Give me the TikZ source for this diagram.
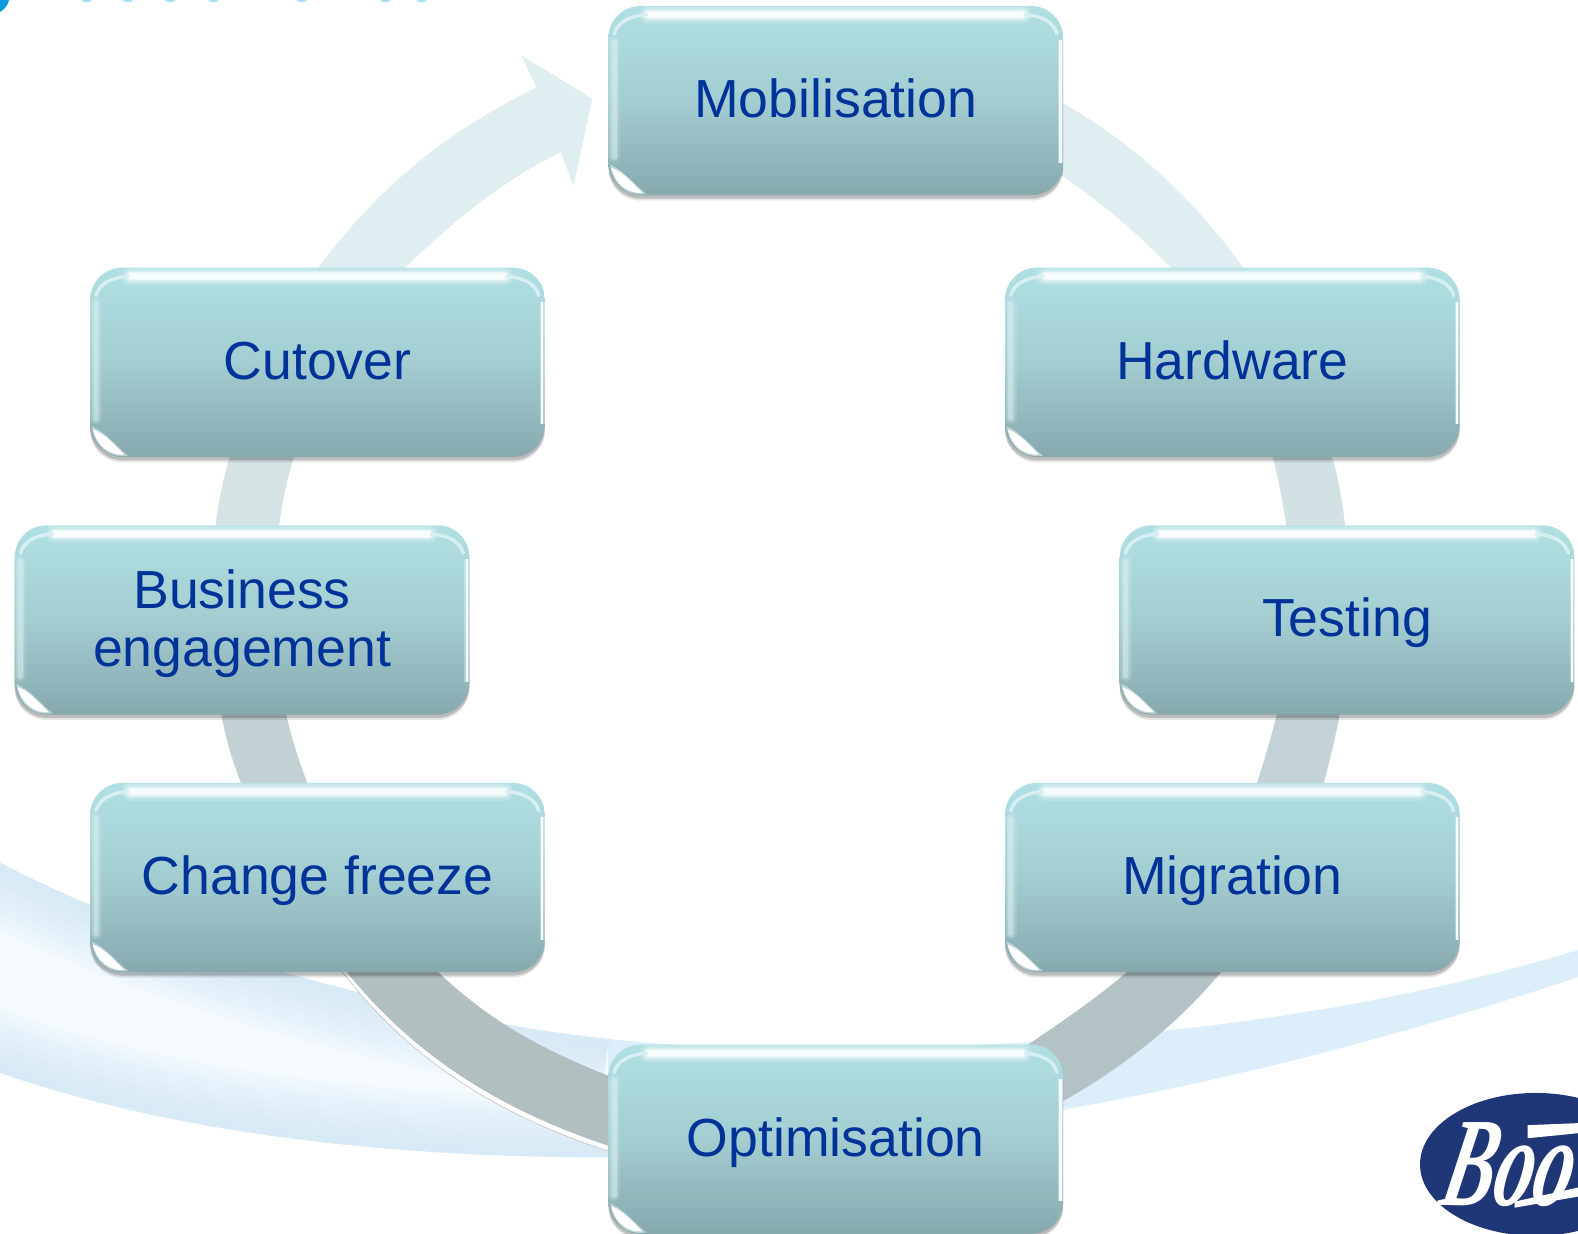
\documentclass[tikz,border=0pt]{standalone}
\usepackage{fontspec}
\setmainfont{Liberation Sans}
\newfontfamily\logofont{Liberation Serif}
\usetikzlibrary{calc,shadows,backgrounds}
\pgfdeclarelayer{swooshlayer}
\pgfdeclarelayer{arclayer}
\pgfsetlayers{swooshlayer,arclayer,main}
\definecolor{topcol}{HTML}{B0E0E3}
\definecolor{midcol}{HTML}{A3CDD1}
\definecolor{botcol}{HTML}{86A9AE}
\definecolor{txtcol}{HTML}{003399}
\definecolor{swblue}{HTML}{DBEEF9}
\definecolor{swedge}{HTML}{C6E3F5}
\definecolor{logoblue}{HTML}{1F3677}
\definecolor{corner}{HTML}{0A9BD8}
\definecolor{titletail}{HTML}{A8DDF2}
\tikzset{
  x=0.7548pt,y=-0.7548pt,
  cyclebox/.style={
    rounded corners=24pt,minimum width=341pt,minimum height=142pt,inner sep=0pt,
    top color=topcol,bottom color=botcol,middle color=midcol,
    text=txtcol,font=\fontsize{40.2}{43.8}\selectfont,align=center,
    drop shadow={shadow xshift=0pt,shadow yshift=-4pt,opacity=.10,fill=black},
    drop shadow={shadow xshift=0pt,shadow yshift=-2.5pt,opacity=.18,fill=black},
  },
  singleline/.style={text height=25.5pt,text depth=0pt},
  ringseg/.style={draw=none},
  edgeseg/.style={fill=white,draw=#1,line width=.5pt},
}
\begin{document}
\begin{tikzpicture}
\useasboundingbox (0,0) rectangle (1568,1226);
\clip (0,0) rectangle (1568,1226);
% boxes
\node[cyclebox,singleline] (mob) at (830.5,100) {Mobilisation};
\node[cyclebox,singleline] (har) at (1224.5,360) {Hardware};
\node[cyclebox,singleline] (tes) at (1338.5,616) {Testing};
\node[cyclebox,singleline] (mig) at (1224.5,872) {Migration};
\node[cyclebox,singleline] (opt) at (830.5,1132) {Optimisation};
\node[cyclebox,singleline] (chg) at (315.5,872) {Change freeze};
\node[cyclebox] (bus) at (240.5,616) {\rule{0pt}{35pt}Business\\engagement};
\node[cyclebox,singleline] (cut) at (315.5,360) {Cutover};
% glossy highlights of the boxes
\foreach \n in {mob,har,tes,mig,opt,chg,bus,cut}{
  \begin{scope}[shift={(\n.north west)}]
    \foreach \w/\o in {14/.12,11/.2,8/.35,6/.5,4/.7}{
      \draw[white,opacity=\o,line width=\w,line cap=round] (40,9) -- (412,9);
    }
    \draw[topcol!50!white,line width=2.6pt,line cap=round] (6,28) .. controls (9,17) and (20,10) .. (38,9);
    \draw[topcol!50!white,line width=2.6pt,line cap=round] (446,28) .. controls (443,17) and (432,10) .. (414,9);
    \foreach \w/\o in {9/.15,6/.25,3.5/.4}{
      \draw[topcol!40!white,opacity=\o,line width=\w,line cap=round] (6,36) -- (6,150);
    }
    \foreach \w/\o in {3.5/.3,1.8/.9}{
      \draw[white,opacity=\o,line width=\w] (449.5,34) -- (449.5,156);
    }
    \fill[white,opacity=.45] (2,158) .. controls (5,178) and (18,190) .. (38,187)
      .. controls (28,180) and (16,164) .. (2,158) -- cycle;
    \fill[white] (3,161) .. controls (7,178) and (20,187) .. (34,186)
      .. controls (26,178) and (15,165) .. (3,161) -- cycle;
  \end{scope}
}
% ring of block arrows
\begin{pgfonlayer}{arclayer}
\fill[ringseg,fill={rgb,255:red,223;green,238;blue,240}]
  ($(mob.east)+(-10,-3)$) .. controls (1125,140) and (1190,200) .. ($(har.north)+(17,9)$)
  -- ($(har.north)+(-52,9)$) .. controls (1130,232) and (1095,200) .. ($(mob.east)+(-16,65)$) -- cycle;
\fill[ringseg,fill={rgb,255:red,210;green,225;blue,228}]
  ($(har.south)+(96,-8)$) .. controls (1330,470) and (1334,500) .. ($(tes.north)+(-1,8)$)
  -- ($(tes.north)+(-59,8)$) .. controls (1275,505) and (1272,480) .. ($(har.south)+(38,-8)$) -- cycle;
\fill[ringseg,fill={rgb,255:red,194;green,210;blue,214}]
  ($(tes.south)+(-6,-8)$) .. controls (1327,735) and (1320,760) .. ($(mig.north)+(89,8)$)
  -- ($(mig.north)+(22,8)$) .. controls (1255,760) and (1264,730) .. ($(tes.south)+(-68,-8)$) -- cycle;
\fill[ringseg,fill={rgb,255:red,179;green,195;blue,197}]
  ($(mig.south)+(-5,-8)$) .. controls (1170,1020) and (1110,1065) .. ($(opt.east)+(-11,-32)$)
  -- ($(opt.east)+(-41,-90)$) .. controls (1060,1012) and (1095,988) .. ($(mig.south)+(-96,-8)$) -- cycle;
\filldraw[edgeseg=gray!45]
  ($(chg.south)+(19,-8)$) .. controls (406,1054) and (496,1109) .. ($(opt.west)+(4,13)$)
  -- ($(opt.west)+(8,-30)$) -- ($(chg.south)+(60,-8)$) -- cycle;
\fill[ringseg,fill={rgb,255:red,178;green,191;blue,192}]
  ($(chg.south)+(23,-8)$) .. controls (410,1050) and (500,1105) .. ($(opt.west)+(8,9)$)
  -- ($(opt.west)+(8,-60)$) .. controls (530,1040) and (480,1010) .. ($(chg.south)+(112,-8)$) -- cycle;
\fill[ringseg,fill={rgb,255:red,194;green,209;blue,212}]
  ($(chg.north)+(-73,8)$) .. controls (232,760) and (224,735) .. ($(bus.south)+(-22,-8)$)
  -- ($(bus.south)+(42,-8)$) .. controls (290,735) and (298,760) .. ($(chg.north)+(-7,8)$) -- cycle;
\fill[ringseg,fill={rgb,255:red,213;green,227;blue,229}]
  ($(bus.north)+(-27,8)$) .. controls (216,500) and (222,475) .. ($(cut.south)+(-85,-8)$)
  -- ($(cut.south)+(-21,-8)$) .. controls (285,475) and (280,500) .. ($(bus.north)+(36,8)$) -- cycle;
\fill[ringseg,fill={rgb,255:red,223;green,238;blue,240}]
  ($(cut.north)+(-5,8)$) .. controls (375,185) and (445,130) .. (533,87)
  -- (518,55) -- ($(mob.west)+(-16,-2)$) -- (570,185) -- (557,151)
  .. controls (490,185) and (445,225) .. ($(cut.north)+(79,8)$) -- cycle;
\end{pgfonlayer}
% background swoosh
\begin{pgfonlayer}{swooshlayer}
\begin{scope}
  \clip (0,857) .. controls (100,910) and (230,955) .. (368,989)
    .. controls (470,1013) and (600,1045) .. (830,1042)
    .. controls (1100,1040) and (1350,1010) .. (1568,944)
    -- (1568,971) .. controls (1300,1060) and (1060,1110) .. (830,1136)
    .. controls (760,1144) and (680,1150) .. (603,1150)
    .. controls (380,1150) and (170,1125) .. (0,1066) -- cycle;
  \fill[swblue!30!white] (0,840) rectangle (604,1160);
  \fill[swblue] (604,900) rectangle (1568,1160);
  \foreach \w in {90,80,...,10}{
    \draw[swedge,line width=\w,opacity=.09]
      (-120,1020) -- (0,1066) .. controls (170,1125) and (380,1150) .. (604,1150);
    \draw[swedge,line width=\w,opacity=.09]
      (-120,795) -- (0,857) .. controls (100,910) and (230,955) .. (368,989)
      .. controls (470,1013) and (540,1030) .. (604,1038);
  }
\end{scope}
\end{pgfonlayer}
% logo
\fill[logoblue] (1526,1157) ellipse [x radius=115,y radius=71];
\fill[white] (1505,1200) -- (1505,1194) -- (1568,1180) -- (1568,1189) -- cycle;
\fill[white] (1518,1118) -- (1568,1116) -- (1568,1126) -- (1518,1131) -- cycle;
\node[text=white,font=\logofont\bfseries\itshape\fontsize{95}{95}\selectfont,anchor=base west,inner sep=0pt,xscale=.62,xslant=.35,transform shape] (logo) at (1428,1198) {Boo};
% remains of the cut-off title
\fill[corner] (0,0) -- (9,0) .. controls (8,5) and (4,10) .. (0,12) -- cycle;
\foreach \px in {86,127,169,212,300,383,419}{
  \fill[titletail] (\px,0) ellipse [x radius=5,y radius=2.2];
}
\end{tikzpicture}
\end{document}
